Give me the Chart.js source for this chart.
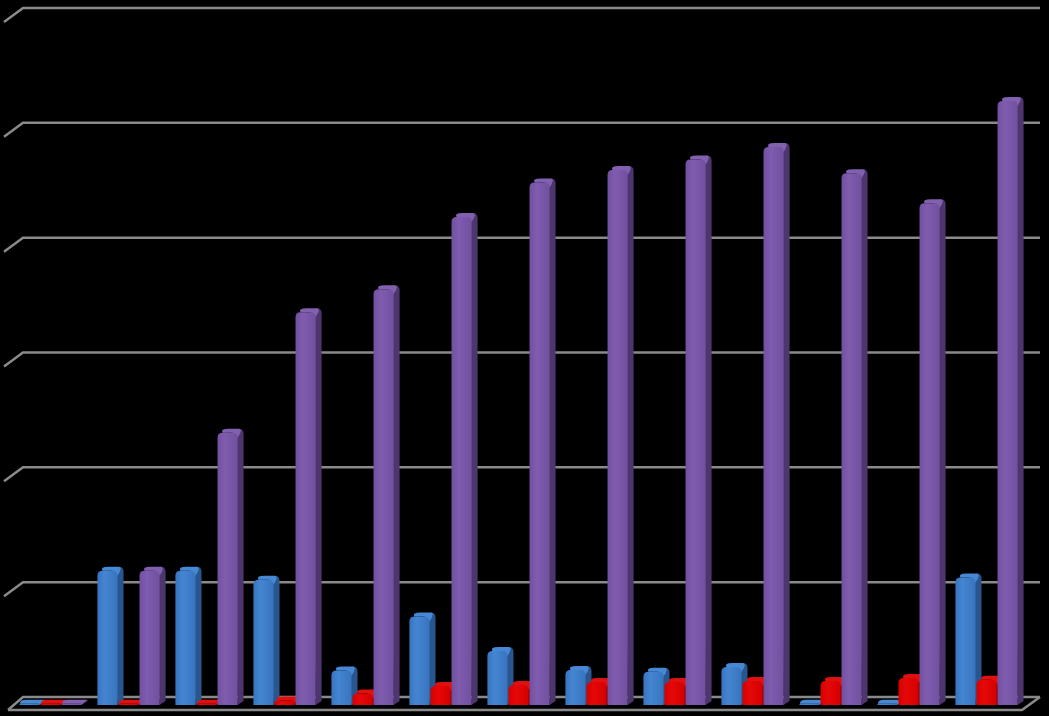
<!DOCTYPE html>
<html>
<head>
<meta charset="utf-8">
<script src="https://cdn.jsdelivr.net/npm/chart.js@4.4.1/dist/chart.umd.min.js"></script>
<style>
  html, body { margin: 0; padding: 0; background: #000; }
  #wrap { width: 1049px; height: 716px; }
</style>
</head>
<body>
<div id="wrap"><canvas id="chart" width="1049" height="716"></canvas></div>
<script>
// categories have no visible labels in the picture
const categories = ['1', '2', '3', '4', '5', '6', '7', '8', '9', '10', '11', '12', '13'];
const blueValues   = [0.1, 11.7, 11.7, 10.9, 3.0, 7.7, 4.7, 3.05, 2.9, 3.3, 0.1, 0.1, 11.1];
const redValues    = [0.1, 0.1, 0.1, 0.4, 1.0, 1.65, 1.75, 2.0, 2.0, 2.1, 2.1, 2.35, 2.2];
const purpleValues = [0.1, 11.7, 23.7, 34.2, 36.2, 42.5, 45.5, 46.6, 47.5, 48.6, 46.3, 43.7, 52.6];
const yTicks = [0, 10, 20, 30, 40, 50, 60];

const palette = [
    { front: '#3874be', light: '#4485d2', side: '#2a5690', top: '#4688d4' },
    { front: '#d40000', light: '#e60808', side: '#8c0000', top: '#e01010' },
    { front: '#7250a0', light: '#7f5cae', side: '#4d356e', top: '#8160af' },
];

const DX = 6, DY = -4; // bar depth offset

// back wall grid lines + floor
const wallPlugin = {
    id: 'wall',
    beforeDatasetsDraw(chart) {
        const ctx = chart.ctx;
        const y = chart.scales.y;
        ctx.save();
        ctx.strokeStyle = '#8a8a8a';
        ctx.lineWidth = 2.5;
        yTicks.forEach(v => {
            const py = y.getPixelForValue(v) - 8;
            ctx.beginPath();
            ctx.moveTo(v === 0 ? 8 : 4, v === 0 ? py + 13 : py + 14);
            ctx.lineTo(23, py);
            ctx.lineTo(1040, py);
            ctx.stroke();
        });
        // floor front edge
        const fy = y.getPixelForValue(0) + 5;
        ctx.beginPath();
        ctx.moveTo(8, fy);
        ctx.lineTo(1022, fy);
        ctx.lineTo(1040, fy - 13);
        ctx.stroke();
        ctx.restore();
    }
};

// 3D bars drawn from the bar elements laid out by chart.js
const barsPlugin = {
    id: 'bars3d',
    afterDatasetsDraw(chart) {
        const ctx = chart.ctx;
        const n = categories.length;
        ctx.save();
        for (let i = 0; i < n; i++) {
            chart.data.datasets.forEach((ds, d) => {
                const el = chart.getDatasetMeta(d).data[i];
                if (!el) return;
                const c = palette[d];
                const w = el.width - 1;
                const L = el.x - el.width / 2, R = L + w;
                const top = Math.min(el.y, el.base - 1), base = el.base;
                const h = base - top;
                const r = Math.min(5, h / 2);

                // side face
                ctx.fillStyle = c.side;
                ctx.beginPath();
                ctx.moveTo(R, base);
                ctx.lineTo(R + DX, base + DY);
                ctx.lineTo(R + DX, top + DY + r);
                ctx.quadraticCurveTo(R + DX, top + DY, R + DX - r, top + DY);
                ctx.lineTo(R - r, top);
                ctx.closePath();
                ctx.fill();

                // top face
                ctx.fillStyle = c.top;
                ctx.beginPath();
                ctx.moveTo(L + r, top);
                ctx.quadraticCurveTo(L + r / 2, top + DY, L + DX + r, top + DY);
                ctx.lineTo(R + DX - r, top + DY);
                ctx.quadraticCurveTo(R + DX, top + DY, R, top + r);
                ctx.lineTo(R - r, top);
                ctx.closePath();
                ctx.fill();

                // front face
                const g = ctx.createLinearGradient(L, 0, R, 0);
                g.addColorStop(0, c.front);
                g.addColorStop(0.35, c.light);
                g.addColorStop(1, c.front);
                ctx.fillStyle = g;
                ctx.beginPath();
                ctx.moveTo(L, base);
                ctx.lineTo(L, top + r);
                ctx.quadraticCurveTo(L, top, L + r, top);
                ctx.lineTo(R - r, top);
                ctx.quadraticCurveTo(R, top, R, top + r);
                ctx.lineTo(R, base);
                ctx.closePath();
                ctx.fill();
            });
        }
        ctx.restore();
    }
};

const chart = new Chart(document.getElementById('chart'), {
    type: 'bar',
    data: {
        labels: categories,
        datasets: [
            { label: 'Series 1', data: blueValues },
            { label: 'Series 2', data: redValues },
            { label: 'Series 3', data: purpleValues },
        ].map(ds => Object.assign(ds, {
            backgroundColor: 'rgba(0,0,0,0)',
            borderWidth: 0,
            barPercentage: 1.0,
            categoryPercentage: 0.81,
        }))
    },
    plugins: [wallPlugin, barsPlugin],
    options: {
        responsive: false,
        animation: false,
        layout: { padding: { left: 12, right: 23, top: 16, bottom: 11 } },
        plugins: { legend: { display: false }, tooltip: { enabled: false } },
        scales: {
            x: { display: false },
            y: { display: false, min: 0, max: 60 }
        }
    }
});
</script>
</body>
</html>
